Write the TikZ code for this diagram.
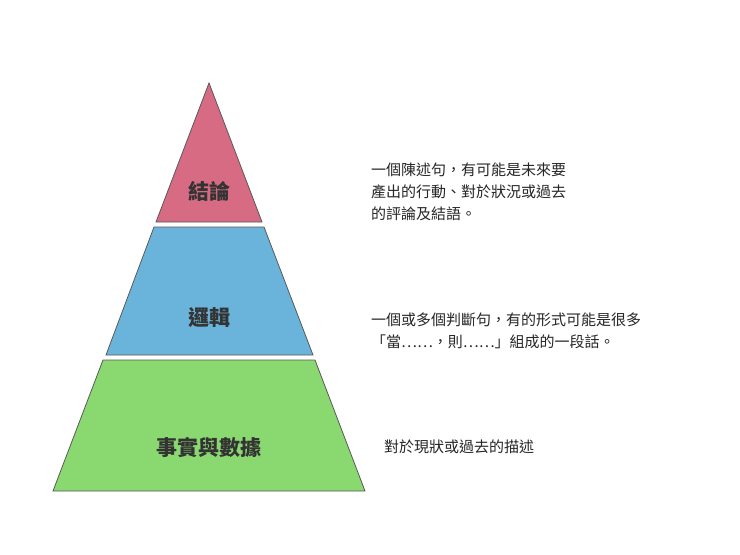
\documentclass[tikz,border=0pt]{standalone}
\usepackage{fontspec}
\setmainfont{Noto Sans CJK TC}
\begin{document}
\begin{tikzpicture}[x=1pt,y=-1pt,
  lvl/.style={draw=gray!70!black,line width=0.8pt},
  lab/.style={font=\fontsize{21}{24}\selectfont\bfseries,text=black!80},
  desc/.style={font=\fontsize{15}{22}\selectfont,text=black!85,anchor=west,align=left,inner sep=0pt}]
\useasboundingbox (0,0) rectangle (740,555);
\fill[white] (0,0) rectangle (740,555);
\draw[lvl,fill={rgb,255:red,214;green,107;blue,131}] (209,83) -- (262,222) -- (156,222) -- cycle;
\draw[lvl,fill={rgb,255:red,106;green,180;blue,219}] (154,227) -- (264,227) -- (313,355) -- (106,355) -- cycle;
\draw[lvl,fill={rgb,255:red,138;green,216;blue,112}] (103,360) -- (315,360) -- (365,491) -- (53,491) -- cycle;
\node[lab] (a) at (209,191) {結論};
\node[lab] (b) at (209,318) {邏輯};
\node[lab] (c) at (209,448) {事實與數據};
\node[desc] (d1) at (371,192) {一個陳述句，有可能是未來要\\產出的行動、對於狀況或過去\\的評論及結語。};
\node[desc] (d2) at (371,331) {一個或多個判斷句，有的形式可能是很多\\「當……，則……」組成的一段話。};
\node[desc] (d3) at (384,447) {對於現狀或過去的描述};
\end{tikzpicture}
\end{document}
